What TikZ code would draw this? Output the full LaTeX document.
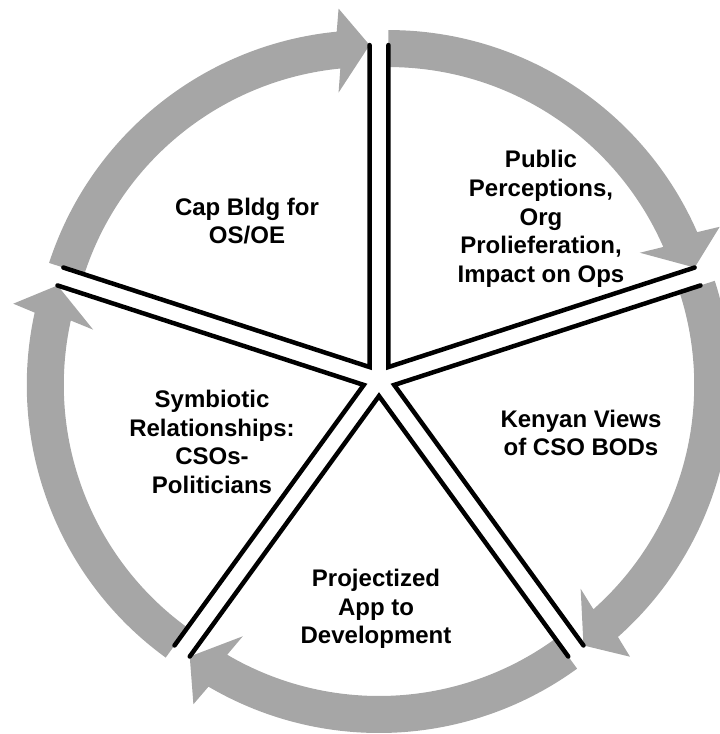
\documentclass[tikz,border=0pt]{standalone}
\usepackage{fontspec}
\setmainfont{Liberation Sans}
\usetikzlibrary{calc}
\definecolor{arrowgrey}{RGB}{166,166,166}
\tikzset{
  bandfill/.style={fill=arrowgrey},
  edgeline/.style={draw=black,line width=4.5pt,line join=miter,line cap=round},
  segtext/.style={align=center,font=\fontsize{24pt}{28.7pt}\selectfont\bfseries,inner sep=0pt}
}
\newcommand\drawseg[1]{%
  \pgfmathsetmacro\sa{#1+36}%
  \pgfmathsetmacro\ea{#1-36}%
  \pgfmathsetmacro\ba{#1-36+5.6}%
  \begin{scope}[shift={(379pt,-380pt)},shift={(#1:16pt)}]
    \fill[bandfill] (\sa:337pt) arc[start angle=\sa, end angle=\ba, radius=337pt]
      -- ($(\ba:318pt)+(\ea:42pt)$) -- (\ea:322pt) -- ($(\ba:318pt)+(\ea:-42pt)$)
      -- (\ba:300pt) arc[start angle=\ba, end angle=\sa, radius=300pt] -- cycle;
    \draw[edgeline] (\sa:322pt) -- (0,0) -- (\ea:322pt);
  \end{scope}}
\begin{document}
\begin{tikzpicture}[x=1pt,y=1pt]
\useasboundingbox (0,0) rectangle (720,-734);
\drawseg{54}
\drawseg{-18}
\drawseg{-90}
\drawseg{-162}
\drawseg{126}
\node[segtext] (cap) at (247,-221) {Cap Bldg for\\OS/OE};
\node[segtext] (pub) at (541,-219) {Public\\Perceptions,\\Org\\Prolieferation,\\Impact on Ops};
\node[segtext] (ken) at (581,-433) {Kenyan Views\\of CSO BODs};
\node[segtext] (proj) at (376,-609) {Projectized\\App to\\Development};
\node[segtext] (sym) at (212,-442) {Symbiotic\\Relationships:\\CSOs-\\Politicians};
\end{tikzpicture}
\end{document}
